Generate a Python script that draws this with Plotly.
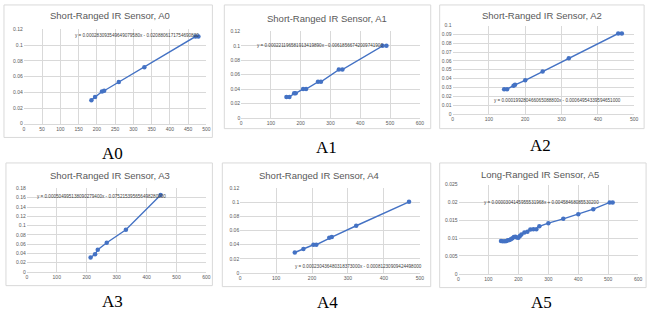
import plotly.graph_objects as go

W, H = 661, 322

# ---------------- data ----------------
a0_x = [185, 195, 214, 220, 260, 330, 470, 478]
a0_y = [0.030, 0.034, 0.041, 0.042, 0.053, 0.072, 0.111, 0.111]

a1_x = [152, 162, 178, 183, 208, 218, 258, 268, 328, 340, 475, 488]
a1_y = [0.029, 0.029, 0.034, 0.034, 0.040, 0.040, 0.050, 0.050, 0.067, 0.067, 0.100, 0.100]

a2_x = [142, 150, 168, 172, 200, 248, 320, 456, 466]
a2_y = [0.028, 0.028, 0.032, 0.033, 0.038, 0.048, 0.063, 0.091, 0.091]

a3_x = [213, 228, 237, 267, 331, 447]
a3_y = [0.031, 0.038, 0.048, 0.063, 0.091, 0.166]

a4_x = [152, 176, 204, 212, 248, 255, 323, 470]
a4_y = [0.029, 0.034, 0.040, 0.040, 0.050, 0.051, 0.067, 0.101]

a5_x = [142, 148, 155, 160, 165, 170, 175, 180, 185, 190, 195, 200, 205, 210,
        220, 230, 240, 250, 260, 270, 300, 350, 400, 450, 505, 515]
a5_y = [0.0092, 0.0091, 0.0091, 0.0092, 0.0094, 0.0095, 0.0097, 0.0100, 0.0103,
        0.0104, 0.0102, 0.0101, 0.0106, 0.0110, 0.0116, 0.0118, 0.0124, 0.0125,
        0.0125, 0.0133, 0.0142, 0.0154, 0.0167, 0.0181, 0.0200, 0.0200]

titles = ["Short-Ranged IR Sensor, A0", "Short-Ranged IR Sensor, A1",
          "Short-Ranged IR Sensor, A2", "Short-Ranged IR Sensor, A3",
          "Short-Ranged IR Sensor, A4", "Long-Ranged IR Sensor, A5"]
captions = ["A0", "A1", "A2", "A3", "A4", "A5"]
equations = [
    "y = 0.000283093549649079580x - 0.0208806171754690800",
    "y = 0.000221196581913419890x - 0.00618566742009741900",
    "y = 0.000199280466065088800x - 0.00064954339594651000",
    "y = 0.000504995138090279400x - 0.075215395656498280000",
    "y = 0.000230436480318373000x - 0.00081230909424498000",
    "y = 0.0000304145955531968x + 0.00458468085530200",
]

x_ticks = [
    [0, 50, 100, 150, 200, 250, 300, 350, 400, 450, 500],
    [0, 100, 200, 300, 400, 500, 600],
    [0, 100, 200, 300, 400, 500],
    [0, 100, 200, 300, 400, 500, 600],
    [0, 100, 200, 300, 400, 500],
    [0, 100, 200, 300, 400, 500, 600],
]
y_ticks = [
    [0, 0.02, 0.04, 0.06, 0.08, 0.1, 0.12],
    [0, 0.02, 0.04, 0.06, 0.08, 0.1, 0.12],
    [0, 0.01, 0.02, 0.03, 0.04, 0.05, 0.06, 0.07, 0.08, 0.09, 0.1],
    [0, 0.02, 0.04, 0.06, 0.08, 0.1, 0.12, 0.14, 0.16, 0.18],
    [0, 0.02, 0.04, 0.06, 0.08, 0.1, 0.12],
    [0, 0.005, 0.01, 0.015, 0.02, 0.025],
]
y_tick_text = [
    ["0", "0.02", "0.04", "0.06", "0.08", "0.1", "0.12"],
    ["0", "0.02", "0.04", "0.06", "0.08", "0.1", "0.12"],
    ["0", "0.01", "0.02", "0.03", "0.04", "0.05", "0.06", "0.07", "0.08", "0.09", "0.1"],
    ["0", "0.02", "0.04", "0.06", "0.08", "0.1", "0.12", "0.14", "0.16", "0.18"],
    ["0", "0.02", "0.04", "0.06", "0.08", "0.1", "0.12"],
    ["0", "0.005", "0.01", "0.015", "0.02", "0.025"],
]

series = [(a0_x, a0_y), (a1_x, a1_y), (a2_x, a2_y), (a3_x, a3_y), (a4_x, a4_y), (a5_x, a5_y)]

# ---------------- layout (pixels) ----------------
plot_px = [(23, 207, 27, 123), (242, 422, 29, 117), (455, 638, 23, 113),
           (26, 207, 189, 274), (241, 422, 189, 275), (461, 642, 185, 276)]
box_px = [(3, 213, 2, 137), (225, 433, 2, 128), (442, 648, 2, 128),
          (5, 213, 163, 288), (223, 433, 163, 289), (442, 650, 163, 290)]
title_px = [(110, 13), (328, 16), (545, 13), (110, 176), (320, 176), (543, 175)]
caption_px = [(112, 153), (328, 147), (544, 145), (112, 304), (329, 305), (545, 305)]
eq_px = [(137, 33), (321, 43), (561, 99), (101, 197), (360, 268), (545, 203)]

def px(x):
    return x / W

def py(y):
    return 1 - y / H

BLUE = "#4472C4"
GRID = "#D9D9D9"
TXT = "#595959"

fig = go.Figure()
shapes = []
annotations = []
for i, (xs, ys) in enumerate(series):
    n = "" if i == 0 else str(i + 1)
    fig.add_trace(go.Scatter(
        x=xs, y=ys, mode="lines+markers",
        line=dict(color=BLUE, width=1.4),
        marker=dict(color=BLUE, size=4.5),
        xaxis="x" + n, yaxis="y" + n, showlegend=False,
        hoverinfo="skip"))
    xl, xr, yt, yb = plot_px[i]
    xt = x_ticks[i]
    yt_ = y_ticks[i]
    fig.layout["xaxis" + n] = dict(
        domain=[px(xl), px(xr)], anchor="y" + n,
        range=[xt[0], xt[-1]], tickvals=xt,
        ticktext=[str(v) for v in xt],
        showgrid=True, gridcolor=GRID, gridwidth=1,
        showline=True, linecolor=GRID, zeroline=False,
        ticks="", tickfont=dict(size=5, color=TXT, family="Liberation Sans"),
        fixedrange=True)
    fig.layout["yaxis" + n] = dict(
        domain=[py(yb), py(yt)], anchor="x" + n,
        range=[yt_[0], yt_[-1]], tickvals=yt_, ticktext=y_tick_text[i],
        showgrid=True, gridcolor=GRID, gridwidth=1,
        showline=False, zeroline=False,
        ticks="", tickfont=dict(size=5, color=TXT, family="Liberation Sans"),
        fixedrange=True)
    bl, br, bt, bb = box_px[i]
    shapes.append(dict(type="rect", xref="paper", yref="paper",
                       x0=px(bl), x1=px(br), y0=py(bb), y1=py(bt),
                       line=dict(color=GRID, width=1), fillcolor="rgba(0,0,0,0)",
                       layer="below"))
    annotations.append(dict(text=titles[i], x=px(title_px[i][0]), y=py(title_px[i][1]),
                            xref="paper", yref="paper", showarrow=False,
                            xanchor="center", yanchor="middle",
                            font=dict(size=9.5, color=TXT, family="Liberation Sans")))
    annotations.append(dict(text=captions[i], x=px(caption_px[i][0]), y=py(caption_px[i][1]),
                            xref="paper", yref="paper", showarrow=False,
                            xanchor="center", yanchor="middle",
                            font=dict(size=17, color="#000000", family="Liberation Serif")))
    annotations.append(dict(text=equations[i], x=px(eq_px[i][0]), y=py(eq_px[i][1]),
                            xref="paper", yref="paper", showarrow=False,
                            xanchor="center", yanchor="middle",
                            font=dict(size=4.6, color="#404040", family="Liberation Sans")))

fig.update_layout(
    width=W, height=H, margin=dict(l=0, r=0, t=0, b=0),
    paper_bgcolor="white", plot_bgcolor="white",
    shapes=shapes, annotations=annotations, showlegend=False)

fig.write_html("out.html", config=dict(displayModeBar=False))
